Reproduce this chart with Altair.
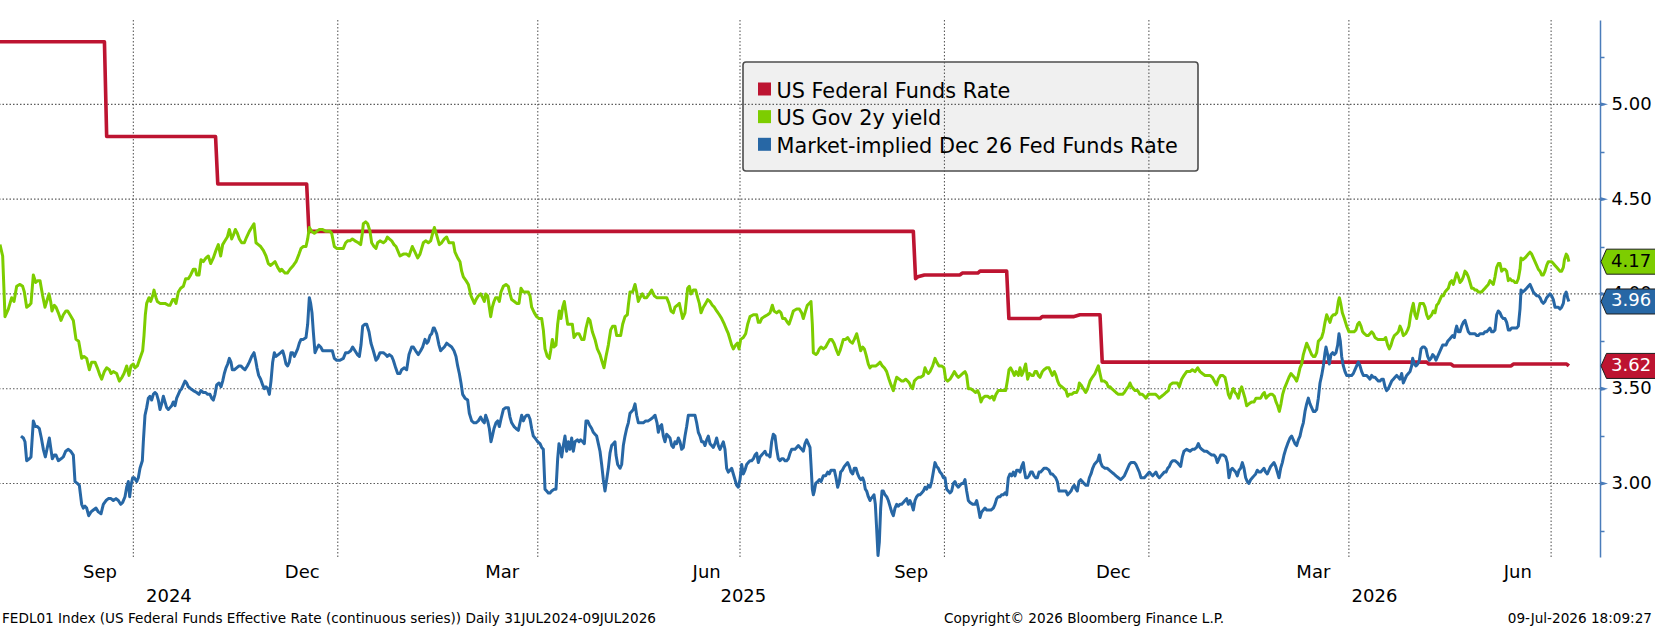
import altair as alt
import pandas as pd

# ---------------------------------------------------------------- settings
FONT = "DejaVu Sans"
W, H = 1600, 537
START = pd.Timestamp("2024-07-31")          # day 0 of the day offsets below
X_DOMAIN = [alt.DateTime(year=2024, month=8, date=2), alt.DateTime(year=2026, month=7, date=23)]
Y_DOMAIN = [2.612, 5.445]

SERIES = ["US Federal Funds Rate", "US Gov 2y yield", "Market-implied Dec 26 Fed Funds Rate"]
COLORS = ["#bd1431", "#7dcd00", "#2767a5"]
TAG_TEXT = ["white", "black", "white"]
AXIS_BLUE = "#4a7cba"
GRID = "#5c5c5c"

# ---------------------------------------------------------------- data (days after 31 Jul 2024, percent)
red_day = [0, 49, 50, 99, 100, 140, 141, 413, 414, 415, 418, 434, 435, 442, 443, 455, 456,
           470, 471, 485, 488, 497, 498, 644, 645, 655, 656, 682, 683, 707, 708]
red_val = [5.33, 5.33, 4.83, 4.83, 4.58, 4.58, 4.33, 4.33, 4.08, 4.09, 4.10, 4.10, 4.11, 4.11, 4.12, 4.12, 3.87,
           3.87, 3.88, 3.88, 3.89, 3.89, 3.64, 3.64, 3.63, 3.63, 3.62, 3.62, 3.63, 3.63, 3.62]

green_day = [
    2.0, 3.2, 4.25, 5.75, 7.25, 8.3, 9.5, 11.0, 12.2, 12.95, 14.0, 15.2, 15.95, 17.0, 18.05, 18.95, 20.0, 21.2, 22.25, 23.0,
    24.05, 24.8, 25.4, 26.45, 27.2, 28.25, 29.45, 30.5, 31.7, 32.45, 33.5, 35.0, 36.2, 37.4, 38.75, 39.8, 41.0, 42.2, 43.25, 44.75,
    45.8, 47.0, 47.75, 48.95, 50.0, 51.2, 51.95, 53.0, 54.5, 55.7, 56.9, 57.8, 59.0, 60.05, 60.95, 62.0, 62.75, 63.8, 65.0, 66.2,
    66.8, 67.4, 68.0, 69.05, 69.8, 70.7, 71.3, 72.2, 72.8, 74.0, 76.25, 77.75, 78.5, 79.7, 80.45, 81.2, 82.25, 83.3, 84.5, 85.55,
    86.75, 87.8, 89.0, 89.9, 90.5, 91.55, 92.45, 93.5, 94.7, 95.75, 96.8, 98.0, 99.2, 100.25, 101.3, 102.2, 103.25, 104.3, 105.2, 106.25,
    107.0, 107.9, 108.8, 109.7, 110.75, 111.95, 113.0, 114.2, 115.25, 116.3, 117.2, 118.25, 119.3, 120.5, 121.7, 122.75, 123.8, 124.7, 125.75, 126.95,
    128.0, 128.75, 129.5, 130.25, 131.3, 132.5, 134.0, 135.2, 136.55, 137.45, 138.5, 139.7, 140.45, 141.2, 142.25, 143.45, 144.5, 145.7, 147.2, 148.7,
    150.5, 151.25, 152.45, 153.5, 155.0, 156.5, 157.55, 158.45, 159.5, 160.55, 161.75, 163.25, 164.3, 165.05, 165.5, 166.55, 167.45, 168.5, 169.25, 170.3,
    171.2, 171.95, 173.0, 174.5, 175.55, 176.3, 177.2, 178.25, 179.3, 180.2, 182.0, 183.5, 185.0, 186.05, 187.55, 188.75, 189.95, 191.0, 192.5, 193.55,
    194.75, 195.8, 196.7, 197.45, 198.5, 199.7, 200.75, 201.95, 203.0, 204.05, 205.25, 206.0, 206.75, 207.95, 209.0, 209.75, 210.5, 211.7, 212.75, 213.95,
    214.7, 215.45, 216.2, 217.25, 218.3, 219.2, 219.95, 220.55, 221.45, 222.2, 222.8, 223.55, 224.3, 225.05, 225.95, 226.7, 227.45, 228.5, 229.7, 230.75,
    231.5, 232.25, 233.45, 234.5, 235.55, 236.45, 237.5, 238.55, 239.75, 240.5, 241.25, 242.45, 243.5, 244.55, 245.75, 246.5, 247.25, 248.3, 249.2, 249.8,
    250.55, 251.3, 252.2, 252.95, 253.7, 254.45, 255.2, 255.95, 256.7, 257.45, 258.5, 259.55, 260.3, 261.5, 262.55, 263.75, 264.8, 265.7, 266.75, 267.5,
    268.55, 269.75, 270.8, 272.0, 272.75, 273.8, 274.7, 275.75, 276.8, 277.7, 278.75, 279.5, 280.25, 281.3, 282.2, 283.25, 284.3, 284.75, 285.5, 286.7,
    287.75, 288.5, 289.25, 290.0, 291.05, 291.95, 293.0, 294.2, 295.25, 296.45, 297.5, 298.7, 299.75, 300.95, 302.0, 303.05, 303.95, 305.0, 305.75, 306.8,
    307.7, 308.45, 309.2, 310.25, 311.45, 312.2, 312.95, 314.0, 315.05, 315.95, 316.7, 317.45, 318.5, 319.55, 320.45, 321.5, 322.55, 323.45, 324.5, 325.7,
    326.75, 327.95, 329.0, 329.75, 330.5, 331.25, 332.0, 333.05, 333.8, 334.55, 335.3, 336.5, 337.55, 338.45, 339.5, 341.0, 342.5, 343.25, 344.0, 344.75,
    345.95, 347.45, 348.5, 349.55, 350.3, 351.5, 352.55, 353.45, 354.2, 355.25, 356.3, 357.05, 357.95, 359.0, 360.5, 361.7, 362.75, 363.5, 364.25, 365.3,
    366.2, 366.95, 367.55, 368.0, 369.2, 369.95, 370.7, 371.45, 372.5, 373.55, 374.45, 375.5, 376.25, 377.3, 378.5, 379.25, 380.0, 380.75, 381.5, 382.55,
    383.45, 384.5, 385.55, 386.45, 387.5, 388.55, 389.3, 390.2, 390.95, 391.7, 392.75, 393.5, 394.25, 395.3, 396.2, 397.25, 398.0, 399.05, 399.95, 401.0,
    402.05, 402.95, 404.0, 404.75, 405.5, 406.7, 407.75, 408.5, 409.55, 410.45, 411.2, 411.95, 412.7, 413.45, 414.2, 415.25, 416.3, 417.5, 418.25, 419.0,
    419.75, 420.5, 421.7, 422.75, 423.5, 424.55, 425.75, 426.8, 427.55, 428.45, 429.5, 430.55, 431.45, 432.5, 433.25, 434.3, 435.2, 436.25, 437.0, 437.75,
    438.8, 440.0, 441.05, 441.95, 442.7, 443.45, 444.2, 445.25, 446.45, 447.5, 448.55, 449.3, 450.2, 451.25, 452.3, 453.5, 454.55, 455.3, 456.05, 456.8,
    457.7, 458.45, 459.2, 460.25, 461.0, 461.75, 462.5, 463.55, 464.45, 465.2, 466.25, 467.0, 467.75, 468.5, 469.25, 470.0, 471.05, 471.8, 473.0, 474.05,
    474.8, 475.55, 476.45, 477.2, 477.95, 478.7, 479.75, 480.8, 481.7, 482.45, 483.2, 484.25, 485.3, 486.5, 487.25, 487.7, 488.45, 489.5, 490.55, 491.45,
    492.5, 493.55, 494.75, 495.5, 496.25, 497.0, 497.75, 498.95, 500.0, 500.75, 501.5, 502.25, 503.3, 504.2, 505.25, 506.3, 507.2, 507.95, 509.0, 509.75,
    510.5, 511.25, 512.0, 512.75, 513.95, 515.0, 516.05, 516.95, 517.7, 518.75, 519.8, 521.0, 522.05, 522.95, 523.7, 524.75, 525.8, 526.7, 527.75, 528.5,
    529.7, 530.75, 531.8, 532.7, 533.75, 534.8, 536.0, 537.5, 538.55, 539.75, 540.95, 542.0, 543.05, 544.25, 545.3, 546.5, 547.55, 548.45, 549.5, 550.25,
    551.3, 552.2, 553.25, 554.0, 554.75, 555.5, 556.25, 557.0, 557.75, 558.5, 559.25, 560.0, 560.75, 561.5, 562.25, 563.0, 564.05, 565.25, 566.3, 567.2,
    568.25, 569.3, 570.2, 570.95, 571.7, 572.45, 573.5, 574.55, 575.45, 576.2, 576.95, 577.7, 578.45, 579.2, 579.95, 581.0, 582.05, 582.95, 583.7, 584.45,
    585.5, 586.25, 587.0, 587.75, 588.5, 589.25, 590.0, 590.75, 591.5, 592.25, 593.0, 593.75, 594.5, 595.25, 596.0, 596.75, 597.5, 598.25, 599.0, 599.75,
    600.5, 601.25, 602.0, 602.75, 603.5, 604.25, 604.7, 605.3, 606.05, 606.95, 608.0, 609.05, 610.25, 611.3, 612.2, 612.95, 613.7, 614.45, 615.2, 615.95,
    617.0, 617.75, 618.5, 619.25, 620.0, 620.75, 621.95, 623.0, 623.75, 624.8, 625.55, 626.45, 627.2, 627.95, 628.7, 629.45, 630.5, 631.25, 632.0, 632.75,
    633.5, 634.55, 635.45, 636.05, 636.8, 637.55, 638.0, 638.75, 639.5, 640.25, 641.0, 641.75, 642.5, 643.25, 644.0, 644.75, 645.5, 646.25, 647.0, 647.75,
    648.5, 649.25, 650.0, 650.75, 651.5, 652.25, 653.0, 653.75, 654.5, 655.25, 656.0, 656.75, 657.5, 658.25, 659.0, 659.75, 660.5, 661.25, 662.0, 662.75,
    663.5, 664.25, 665.0, 665.75, 666.5, 667.25, 668.0, 668.75, 669.5, 670.25, 671.0, 671.75, 672.5, 673.25, 674.0, 674.75, 675.5, 676.25, 677.0, 677.75,
    678.5, 679.25, 680.0, 680.75, 681.5, 682.25, 683.0, 683.75, 684.5, 685.25, 686.0, 686.45, 687.2, 688.25, 689.0, 689.75, 690.5, 691.25, 692.0, 692.75,
    693.5, 694.25, 695.0, 695.75, 696.5, 697.25, 698.0, 698.75, 699.5, 700.25, 701.0, 701.75, 702.5, 703.25, 704.0, 704.75, 705.5, 706.0, 706.8, 707.4,
    708.0]
green_val = [
    4.26, 4.20, 3.88, 3.92, 3.98, 3.96, 4.04, 4.05, 4.04, 4.01, 3.93, 3.94, 3.95, 4.10, 4.06, 4.07, 4.07, 3.99, 3.93, 3.96,
    4.00, 3.96, 3.91, 3.94, 3.93, 3.90, 3.86, 3.89, 3.91, 3.91, 3.89, 3.86, 3.76, 3.75, 3.66, 3.67, 3.66, 3.60, 3.64, 3.64,
    3.61, 3.57, 3.55, 3.59, 3.61, 3.60, 3.58, 3.59, 3.58, 3.54, 3.56, 3.58, 3.62, 3.57, 3.62, 3.63, 3.61, 3.62, 3.66, 3.70,
    3.78, 3.89, 3.95, 3.98, 3.96, 3.99, 4.02, 3.98, 3.96, 3.95, 3.95, 3.94, 3.94, 3.97, 3.97, 3.95, 4.01, 4.03, 4.04, 4.08,
    4.08, 4.10, 4.13, 4.13, 4.10, 4.10, 4.18, 4.17, 4.19, 4.20, 4.16, 4.19, 4.23, 4.26, 4.20, 4.26, 4.28, 4.30, 4.34, 4.29,
    4.31, 4.34, 4.32, 4.29, 4.27, 4.27, 4.30, 4.33, 4.35, 4.37, 4.27, 4.26, 4.25, 4.23, 4.20, 4.16, 4.15, 4.16, 4.17, 4.14,
    4.12, 4.13, 4.12, 4.11, 4.11, 4.13, 4.15, 4.17, 4.21, 4.24, 4.25, 4.25, 4.29, 4.35, 4.33, 4.32, 4.33, 4.34, 4.34, 4.33,
    4.33, 4.32, 4.25, 4.24, 4.24, 4.24, 4.27, 4.28, 4.28, 4.29, 4.28, 4.27, 4.26, 4.32, 4.37, 4.38, 4.37, 4.33, 4.27, 4.25,
    4.24, 4.27, 4.28, 4.27, 4.28, 4.30, 4.29, 4.28, 4.26, 4.25, 4.20, 4.21, 4.21, 4.20, 4.25, 4.22, 4.19, 4.21, 4.27, 4.28,
    4.27, 4.28, 4.32, 4.35, 4.31, 4.26, 4.27, 4.29, 4.30, 4.27, 4.27, 4.27, 4.22, 4.19, 4.17, 4.12, 4.09, 4.07, 4.05, 3.99,
    3.97, 3.95, 3.97, 3.99, 4.00, 3.98, 3.96, 4.00, 3.99, 3.93, 3.88, 3.93, 3.96, 3.98, 3.98, 3.96, 4.01, 4.04, 4.05, 4.04,
    4.00, 3.97, 3.96, 3.95, 3.95, 4.03, 4.01, 4.01, 4.01, 3.99, 3.93, 3.90, 3.88, 3.87, 3.87, 3.81, 3.71, 3.67, 3.66, 3.70,
    3.76, 3.72, 3.73, 3.84, 3.91, 3.87, 3.93, 3.96, 3.90, 3.84, 3.84, 3.84, 3.77, 3.79, 3.79, 3.76, 3.76, 3.82, 3.87, 3.86,
    3.80, 3.76, 3.71, 3.68, 3.65, 3.61, 3.67, 3.73, 3.81, 3.83, 3.83, 3.78, 3.78, 3.78, 3.84, 3.88, 3.89, 3.94, 4.01, 4.01,
    4.05, 4.01, 3.96, 3.98, 4.00, 3.98, 3.98, 4.00, 4.02, 3.99, 3.98, 3.98, 3.98, 3.98, 3.98, 3.95, 3.91, 3.90, 3.93, 3.94,
    3.95, 3.91, 3.87, 3.90, 4.03, 4.04, 4.00, 4.02, 4.02, 3.98, 3.95, 3.90, 3.93, 3.95, 3.97, 3.96, 3.94, 3.93, 3.91, 3.89,
    3.87, 3.84, 3.81, 3.79, 3.76, 3.73, 3.71, 3.73, 3.74, 3.71, 3.76, 3.77, 3.79, 3.84, 3.88, 3.89, 3.89, 3.85, 3.85, 3.87,
    3.88, 3.89, 3.90, 3.94, 3.91, 3.90, 3.91, 3.90, 3.87, 3.87, 3.85, 3.84, 3.87, 3.91, 3.92, 3.92, 3.90, 3.87, 3.90, 3.94,
    3.95, 3.96, 3.84, 3.69, 3.68, 3.69, 3.71, 3.72, 3.71, 3.72, 3.74, 3.76, 3.76, 3.74, 3.70, 3.68, 3.70, 3.73, 3.76, 3.76,
    3.77, 3.75, 3.74, 3.76, 3.79, 3.74, 3.70, 3.72, 3.71, 3.68, 3.63, 3.61, 3.62, 3.62, 3.62, 3.63, 3.64, 3.62, 3.61, 3.59,
    3.55, 3.52, 3.49, 3.53, 3.56, 3.55, 3.54, 3.54, 3.55, 3.54, 3.53, 3.51, 3.50, 3.54, 3.55, 3.56, 3.56, 3.57, 3.61, 3.59,
    3.58, 3.59, 3.62, 3.66, 3.64, 3.62, 3.62, 3.61, 3.55, 3.54, 3.55, 3.57, 3.59, 3.57, 3.56, 3.57, 3.58, 3.59, 3.57, 3.50,
    3.50, 3.49, 3.48, 3.49, 3.47, 3.43, 3.45, 3.46, 3.46, 3.45, 3.46, 3.44, 3.47, 3.49, 3.49, 3.49, 3.49, 3.54, 3.60, 3.61,
    3.59, 3.57, 3.59, 3.57, 3.61, 3.57, 3.59, 3.63, 3.55, 3.58, 3.57, 3.57, 3.59, 3.59, 3.57, 3.56, 3.59, 3.60, 3.61, 3.61,
    3.59, 3.57, 3.59, 3.57, 3.54, 3.52, 3.51, 3.50, 3.49, 3.46, 3.47, 3.47, 3.48, 3.48, 3.50, 3.53, 3.52, 3.50, 3.48, 3.50,
    3.54, 3.56, 3.58, 3.60, 3.62, 3.58, 3.54, 3.54, 3.53, 3.51, 3.51, 3.50, 3.49, 3.48, 3.47, 3.47, 3.47, 3.48, 3.50, 3.51,
    3.53, 3.51, 3.50, 3.49, 3.49, 3.47, 3.47, 3.46, 3.45, 3.47, 3.47, 3.47, 3.47, 3.46, 3.45, 3.46, 3.47, 3.48, 3.49, 3.52,
    3.53, 3.53, 3.53, 3.51, 3.55, 3.57, 3.59, 3.59, 3.60, 3.59, 3.61, 3.59, 3.58, 3.57, 3.57, 3.57, 3.56, 3.54, 3.52, 3.55,
    3.57, 3.57, 3.56, 3.52, 3.47, 3.45, 3.48, 3.50, 3.48, 3.47, 3.45, 3.49, 3.51, 3.48, 3.45, 3.41, 3.42, 3.43, 3.43, 3.45,
    3.45, 3.45, 3.47, 3.48, 3.45, 3.46, 3.47, 3.47, 3.46, 3.43, 3.41, 3.38, 3.42, 3.47, 3.50, 3.53, 3.56, 3.58, 3.57, 3.56,
    3.54, 3.57, 3.61, 3.63, 3.68, 3.71, 3.74, 3.72, 3.70, 3.68, 3.67, 3.67, 3.69, 3.75, 3.76, 3.77, 3.80, 3.85, 3.89, 3.87,
    3.85, 3.88, 3.89, 3.89, 3.90, 3.96, 3.98, 3.95, 3.90, 3.87, 3.83, 3.80, 3.80, 3.80, 3.81, 3.84, 3.85, 3.83, 3.80, 3.79,
    3.78, 3.78, 3.79, 3.80, 3.79, 3.77, 3.76, 3.76, 3.76, 3.76, 3.77, 3.73, 3.71, 3.73, 3.76, 3.78, 3.79, 3.80, 3.83, 3.81,
    3.78, 3.79, 3.81, 3.83, 3.89, 3.93, 3.95, 3.89, 3.87, 3.91, 3.95, 3.95, 3.95, 3.93, 3.89, 3.87, 3.88, 3.89, 3.91, 3.90,
    3.94, 3.95, 3.97, 3.99, 3.99, 4.01, 4.02, 4.03, 4.06, 4.07, 4.05, 4.08, 4.11, 4.09, 4.06, 4.07, 4.09, 4.12, 4.11, 4.09,
    4.06, 4.03, 4.03, 4.02, 4.02, 4.01, 4.01, 4.01, 4.02, 4.03, 4.04, 4.05, 4.07, 4.06, 4.05, 4.09, 4.14, 4.16, 4.16, 4.12,
    4.13, 4.13, 4.12, 4.07, 4.08, 4.07, 4.07, 4.06, 4.06, 4.08, 4.13, 4.19, 4.18, 4.19, 4.20, 4.21, 4.22, 4.21, 4.19, 4.17,
    4.15, 4.13, 4.12, 4.10, 4.10, 4.12, 4.15, 4.17, 4.17, 4.17, 4.16, 4.15, 4.14, 4.13, 4.12, 4.12, 4.14, 4.18, 4.21, 4.20,
    4.17]

blue_day = [
    11.45, 12.5, 13.25, 14.0, 15.2, 15.95, 17.0, 17.9, 18.8, 19.7, 20.6, 21.5, 22.4, 23.3, 24.2, 24.8, 25.55, 26.45, 27.2, 28.25,
    29.45, 30.5, 31.55, 32.75, 33.8, 35.0, 35.75, 36.8, 37.7, 38.75, 39.5, 40.25, 41.0, 41.9, 42.95, 44.0, 45.2, 46.25, 47.45, 48.5,
    49.7, 50.75, 51.95, 53.0, 54.2, 55.25, 56.3, 57.2, 58.25, 59.0, 59.75, 60.35, 60.95, 61.7, 62.45, 63.5, 64.25, 65.0, 66.05, 66.5,
    67.25, 68.0, 68.75, 69.5, 70.25, 71.0, 71.75, 72.5, 73.25, 74.0, 74.75, 75.5, 76.25, 77.0, 77.75, 78.5, 79.25, 80.0, 80.75, 81.5,
    82.25, 83.0, 83.75, 84.5, 85.25, 86.0, 86.75, 87.8, 89.0, 90.5, 91.55, 92.45, 93.5, 94.55, 95.45, 96.5, 97.25, 98.0, 98.75, 99.5,
    100.55, 101.45, 102.2, 102.95, 103.7, 104.45, 105.2, 105.95, 106.55, 107.45, 108.5, 109.55, 110.45, 111.2, 112.25, 113.3, 114.2, 115.25, 116.3, 117.05,
    117.65, 118.4, 119.3, 120.2, 120.95, 121.7, 122.45, 123.2, 123.95, 124.7, 125.45, 126.2, 127.25, 128.3, 129.2, 129.95, 130.7, 131.45, 132.2, 132.95,
    133.7, 134.45, 135.2, 135.95, 136.7, 137.45, 138.5, 139.7, 140.45, 141.2, 141.8, 142.4, 143.0, 143.75, 144.5, 145.4, 146.3, 147.2, 148.7, 150.5,
    151.55, 152.45, 153.5, 155.0, 156.5, 157.55, 158.75, 159.8, 160.7, 161.75, 162.8, 163.7, 164.45, 165.2, 166.25, 167.0, 168.05, 168.95, 170.0, 171.2,
    171.95, 173.0, 173.75, 174.5, 175.55, 176.3, 177.2, 178.25, 179.0, 180.05, 180.95, 182.0, 182.75, 183.95, 185.0, 186.05, 187.25, 188.0, 189.05, 190.25,
    191.3, 192.2, 193.25, 194.15, 194.75, 195.5, 196.25, 197.0, 197.45, 198.5, 199.55, 200.3, 201.05, 201.95, 203.0, 204.05, 205.25, 206.3, 207.2, 207.95,
    208.7, 209.45, 210.2, 211.25, 212.45, 213.2, 214.25, 215.3, 216.2, 217.25, 218.3, 219.2, 219.95, 220.55, 221.45, 222.2, 222.95, 223.55, 224.3, 225.2,
    225.95, 226.7, 227.45, 228.5, 229.55, 230.75, 231.5, 232.25, 233.3, 234.2, 235.25, 236.0, 236.75, 237.5, 238.25, 239.0, 239.75, 240.5, 241.25, 242.0,
    242.75, 243.95, 245.0, 245.75, 246.5, 247.25, 248.0, 248.75, 249.5, 250.25, 251.45, 252.2, 252.95, 253.55, 254.3, 254.75, 255.5, 256.25, 257.0, 257.75,
    258.5, 259.25, 260.0, 260.75, 261.8, 262.55, 263.3, 264.2, 264.95, 265.7, 266.45, 267.2, 268.25, 269.0, 269.75, 270.5, 271.25, 272.0, 272.75, 273.5,
    274.25, 275.0, 275.75, 276.5, 277.25, 278.0, 278.75, 279.2, 279.95, 281.0, 281.75, 282.5, 283.25, 284.0, 284.75, 285.5, 286.25, 287.0, 287.75, 288.5,
    289.25, 290.45, 291.5, 292.55, 293.75, 294.95, 296.0, 296.75, 297.65, 298.25, 299.0, 299.75, 300.5, 301.25, 302.0, 302.75, 303.5, 304.25, 305.0, 305.75,
    306.5, 307.25, 308.0, 308.75, 309.5, 310.25, 311.0, 311.75, 312.5, 313.25, 314.0, 314.75, 315.5, 316.25, 317.0, 317.75, 318.5, 319.25, 320.0, 320.75,
    321.5, 322.25, 323.0, 323.75, 324.5, 325.25, 326.0, 326.75, 327.5, 328.25, 329.0, 329.75, 330.5, 331.25, 332.0, 332.75, 333.5, 334.25, 335.0, 335.75,
    336.5, 337.25, 338.0, 338.75, 339.5, 340.25, 341.0, 341.75, 342.5, 343.25, 344.0, 344.75, 345.5, 346.25, 347.0, 347.75, 348.5, 349.25, 350.0, 350.75,
    351.5, 352.25, 353.0, 353.75, 354.5, 355.25, 356.0, 356.75, 357.5, 358.25, 359.0, 359.75, 360.5, 361.25, 362.0, 362.75, 363.5, 364.25, 365.0, 365.75,
    366.5, 366.95, 367.55, 368.0, 368.45, 369.05, 369.95, 370.7, 371.45, 372.5, 373.55, 374.45, 375.2, 375.95, 376.7, 377.45, 378.2, 378.95, 379.7, 380.3,
    381.05, 381.95, 382.7, 383.45, 384.2, 384.95, 385.7, 386.45, 387.2, 387.95, 388.7, 389.45, 390.2, 390.8, 391.4, 392.0, 392.75, 393.5, 393.95, 394.7,
    395.3, 395.9, 396.5, 397.1, 397.7, 398.3, 398.9, 399.5, 400.25, 401.0, 401.75, 402.5, 403.25, 404.0, 404.75, 405.5, 406.25, 407.0, 407.75, 408.5,
    409.25, 410.0, 410.75, 411.5, 412.25, 413.0, 413.75, 414.5, 415.25, 416.0, 416.75, 417.5, 418.25, 419.0, 419.75, 420.5, 421.25, 422.0, 422.75, 423.5,
    424.25, 425.0, 425.75, 426.5, 427.25, 428.0, 428.75, 429.5, 430.25, 431.0, 431.75, 432.5, 433.25, 434.0, 434.75, 435.5, 436.25, 437.0, 437.75, 438.5,
    439.7, 440.75, 441.5, 442.25, 443.0, 443.75, 444.5, 445.25, 446.0, 447.05, 447.95, 449.0, 449.75, 450.5, 451.25, 452.0, 452.75, 453.5, 454.25, 455.0,
    455.75, 456.5, 457.25, 458.0, 458.75, 459.5, 460.25, 461.0, 461.75, 462.5, 462.95, 463.55, 464.3, 465.05, 465.8, 466.55, 467.3, 468.05, 468.8, 469.55,
    470.3, 471.05, 471.8, 473.0, 474.05, 474.8, 475.55, 476.3, 477.05, 477.8, 478.55, 479.3, 480.2, 480.95, 481.7, 482.45, 483.2, 483.95, 484.7, 485.45,
    486.2, 486.8, 487.55, 488.3, 489.05, 489.8, 490.7, 491.45, 492.2, 492.95, 493.7, 494.45, 495.2, 495.95, 496.7, 497.3, 498.05, 499.25, 500.3, 501.2,
    502.25, 503.3, 504.2, 505.25, 506.3, 507.2, 507.95, 508.7, 509.45, 510.2, 510.95, 511.7, 512.45, 513.2, 513.95, 514.7, 515.45, 516.2, 516.95, 517.7,
    518.45, 519.2, 519.95, 520.7, 521.45, 522.2, 522.95, 523.7, 524.45, 525.2, 525.95, 526.7, 527.45, 528.2, 528.95, 529.7, 530.75, 531.8, 532.55, 533.3,
    534.05, 534.8, 536.0, 537.5, 538.55, 539.45, 540.5, 541.25, 542.0, 542.75, 543.95, 545.0, 546.05, 547.25, 548.3, 549.05, 549.8, 550.55, 551.3, 552.5,
    553.55, 554.3, 555.05, 555.8, 556.55, 557.3, 558.05, 558.8, 559.55, 560.3, 561.05, 561.8, 562.55, 563.3, 564.05, 564.8, 565.55, 566.3, 567.05, 567.8,
    568.55, 569.3, 570.05, 570.8, 571.55, 572.3, 573.05, 573.8, 574.55, 575.3, 576.05, 576.8, 577.55, 578.3, 579.05, 579.8, 580.55, 581.45, 582.5, 583.25,
    584.0, 584.75, 585.5, 586.25, 587.0, 587.75, 588.5, 589.25, 590.0, 590.75, 591.5, 592.25, 593.0, 593.75, 594.5, 595.25, 596.0, 596.75, 597.5, 598.25,
    598.7, 599.45, 600.2, 600.95, 601.7, 602.45, 603.2, 603.95, 604.55, 605.15, 605.75, 606.5, 607.25, 608.0, 608.75, 609.5, 610.25, 611.0, 611.75, 612.5,
    613.25, 614.0, 614.75, 615.5, 616.25, 617.0, 617.75, 618.5, 619.25, 620.0, 620.75, 621.5, 622.25, 623.0, 623.75, 624.5, 625.25, 626.0, 626.75, 627.5,
    628.25, 629.0, 629.75, 630.5, 631.25, 632.0, 632.75, 633.5, 634.25, 635.0, 635.75, 636.5, 637.25, 637.7, 638.45, 639.2, 639.95, 640.7, 641.45, 642.2,
    642.95, 643.7, 644.45, 645.2, 645.95, 646.7, 647.45, 648.2, 648.95, 649.7, 650.45, 651.2, 651.95, 652.7, 653.45, 654.2, 654.95, 655.7, 656.45, 657.05,
    657.5, 658.25, 659.0, 659.75, 660.5, 661.25, 662.0, 662.75, 663.5, 664.25, 665.0, 665.75, 666.5, 667.25, 668.0, 668.75, 669.5, 670.25, 671.0, 671.75,
    672.5, 673.25, 674.0, 674.75, 675.5, 676.25, 677.0, 677.75, 678.5, 679.25, 680.0, 680.75, 681.5, 682.25, 683.0, 683.75, 684.5, 685.25, 686.0, 686.45,
    687.2, 688.25, 689.0, 689.75, 690.5, 691.25, 692.0, 692.75, 693.5, 694.25, 695.0, 695.75, 696.5, 697.25, 698.0, 698.75, 699.5, 700.25, 701.0, 701.75,
    702.5, 703.25, 704.0, 704.75, 705.5, 706.0, 706.8, 707.4, 708.0]
blue_val = [
    3.25, 3.24, 3.22, 3.12, 3.13, 3.14, 3.33, 3.30, 3.30, 3.29, 3.24, 3.18, 3.14, 3.19, 3.24, 3.19, 3.13, 3.15, 3.15, 3.12,
    3.13, 3.14, 3.17, 3.18, 3.17, 3.15, 3.01, 3.00, 2.99, 2.89, 2.87, 2.88, 2.87, 2.83, 2.85, 2.86, 2.87, 2.85, 2.84, 2.89,
    2.91, 2.92, 2.92, 2.91, 2.92, 2.91, 2.89, 2.90, 2.93, 2.98, 3.01, 2.93, 2.99, 3.03, 3.03, 3.01, 3.03, 3.08, 3.12, 3.22,
    3.36, 3.40, 3.45, 3.46, 3.44, 3.47, 3.48, 3.47, 3.44, 3.39, 3.42, 3.46, 3.43, 3.40, 3.39, 3.40, 3.41, 3.43, 3.41, 3.45,
    3.47, 3.49, 3.50, 3.52, 3.54, 3.53, 3.51, 3.50, 3.49, 3.48, 3.47, 3.49, 3.48, 3.48, 3.47, 3.47, 3.45, 3.44, 3.47, 3.52,
    3.53, 3.51, 3.54, 3.58, 3.61, 3.63, 3.66, 3.64, 3.60, 3.60, 3.61, 3.62, 3.62, 3.61, 3.60, 3.62, 3.64, 3.67, 3.69, 3.65,
    3.61, 3.57, 3.55, 3.52, 3.50, 3.51, 3.50, 3.47, 3.54, 3.64, 3.69, 3.67, 3.68, 3.69, 3.70, 3.67, 3.63, 3.62, 3.64, 3.69,
    3.69, 3.67, 3.69, 3.71, 3.74, 3.76, 3.76, 3.77, 3.84, 3.98, 3.95, 3.90, 3.80, 3.69, 3.71, 3.73, 3.72, 3.70, 3.70, 3.70,
    3.70, 3.66, 3.65, 3.65, 3.66, 3.69, 3.69, 3.70, 3.72, 3.70, 3.68, 3.67, 3.73, 3.83, 3.84, 3.84, 3.80, 3.74, 3.70, 3.65,
    3.66, 3.69, 3.69, 3.69, 3.68, 3.67, 3.68, 3.67, 3.65, 3.61, 3.58, 3.58, 3.60, 3.61, 3.60, 3.68, 3.72, 3.72, 3.70, 3.68,
    3.70, 3.72, 3.76, 3.74, 3.75, 3.78, 3.79, 3.82, 3.82, 3.79, 3.73, 3.70, 3.71, 3.72, 3.74, 3.73, 3.72, 3.70, 3.67, 3.62,
    3.58, 3.53, 3.47, 3.45, 3.44, 3.37, 3.33, 3.32, 3.32, 3.33, 3.35, 3.33, 3.32, 3.36, 3.33, 3.29, 3.22, 3.25, 3.29, 3.32,
    3.33, 3.30, 3.34, 3.39, 3.40, 3.40, 3.35, 3.32, 3.30, 3.29, 3.28, 3.32, 3.36, 3.33, 3.35, 3.36, 3.36, 3.34, 3.29, 3.25,
    3.24, 3.22, 3.21, 3.19, 3.18, 2.97, 2.96, 2.95, 2.95, 2.96, 2.97, 2.97, 3.13, 3.21, 3.18, 3.14, 3.20, 3.25, 3.17, 3.22,
    3.18, 3.24, 3.17, 3.22, 3.23, 3.22, 3.23, 3.22, 3.21, 3.33, 3.33, 3.31, 3.29, 3.27, 3.26, 3.25, 3.21, 3.17, 3.10, 3.02,
    2.96, 3.02, 3.08, 3.16, 3.20, 3.21, 3.22, 3.15, 3.10, 3.08, 3.10, 3.20, 3.25, 3.29, 3.32, 3.37, 3.38, 3.39, 3.42, 3.36,
    3.32, 3.32, 3.32, 3.33, 3.33, 3.34, 3.35, 3.36, 3.32, 3.27, 3.30, 3.31, 3.25, 3.22, 3.26, 3.25, 3.24, 3.20, 3.19, 3.22,
    3.21, 3.24, 3.22, 3.18, 3.19, 3.25, 3.30, 3.36, 3.36, 3.36, 3.36, 3.36, 3.32, 3.27, 3.25, 3.22, 3.22, 3.20, 3.23, 3.25,
    3.21, 3.20, 3.19, 3.21, 3.24, 3.20, 3.18, 3.20, 3.22, 3.18, 3.08, 3.06, 3.07, 3.08, 3.05, 3.02, 2.99, 2.98, 3.02, 3.10,
    3.05, 3.07, 3.10, 3.11, 3.12, 3.12, 3.13, 3.15, 3.16, 3.11, 3.14, 3.15, 3.16, 3.17, 3.15, 3.15, 3.14, 3.22, 3.26, 3.25,
    3.18, 3.13, 3.12, 3.13, 3.13, 3.12, 3.12, 3.13, 3.16, 3.18, 3.18, 3.18, 3.19, 3.20, 3.19, 3.18, 3.17, 3.21, 3.23, 3.21,
    3.19, 3.10, 2.97, 2.94, 2.96, 3.00, 3.01, 3.02, 3.01, 3.04, 3.04, 3.06, 3.05, 3.07, 3.07, 3.07, 3.03, 2.98, 3.01, 3.06,
    3.07, 3.09, 3.10, 3.11, 3.09, 3.06, 3.05, 3.08, 3.08, 3.05, 3.03, 3.02, 3.03, 3.01, 2.97, 2.96, 2.93, 2.91, 2.92, 2.93,
    2.94, 2.89, 2.76, 2.62, 2.69, 2.87, 2.96, 2.96, 2.94, 2.93, 2.91, 2.88, 2.85, 2.83, 2.87, 2.89, 2.88, 2.89, 2.89, 2.90,
    2.91, 2.92, 2.89, 2.91, 2.89, 2.86, 2.91, 2.93, 2.94, 2.94, 2.95, 2.96, 2.98, 2.97, 2.99, 2.98, 3.01, 3.06, 3.11, 3.09,
    3.08, 3.06, 3.05, 3.03, 3.03, 2.97, 2.96, 2.95, 2.96, 3.00, 3.01, 2.99, 2.98, 2.99, 3.00, 3.00, 3.02, 2.96, 2.91, 2.90,
    2.89, 2.89, 2.91, 2.87, 2.82, 2.85, 2.86, 2.87, 2.86, 2.86, 2.86, 2.87, 2.89, 2.92, 2.93, 2.93, 2.94, 2.94, 2.95, 2.94,
    3.03, 3.05, 3.04, 3.06, 3.04, 3.07, 3.07, 3.06, 3.09, 3.11, 3.07, 3.03, 3.03, 3.04, 3.06, 3.06, 3.04, 3.03, 3.03, 3.06,
    3.06, 3.07, 3.08, 3.08, 3.07, 3.05, 3.05, 3.04, 3.03, 3.01, 2.96, 2.96, 2.96, 2.96, 2.96, 2.94, 2.95, 2.96, 2.98, 2.99,
    2.97, 2.96, 3.01, 3.02, 3.01, 3.00, 2.99, 2.99, 3.03, 3.05, 3.08, 3.10, 3.11, 3.12, 3.15, 3.11, 3.09, 3.08, 3.08, 3.07,
    3.06, 3.05, 3.04, 3.03, 3.02, 3.03, 3.04, 3.06, 3.08, 3.10, 3.11, 3.11, 3.11, 3.10, 3.08, 3.06, 3.03, 3.03, 3.03, 3.04,
    3.05, 3.06, 3.05, 3.04, 3.05, 3.06, 3.04, 3.03, 3.04, 3.05, 3.06, 3.06, 3.08, 3.09, 3.11, 3.12, 3.12, 3.11, 3.10, 3.09,
    3.14, 3.17, 3.18, 3.17, 3.18, 3.18, 3.19, 3.21, 3.19, 3.18, 3.17, 3.17, 3.16, 3.15, 3.15, 3.14, 3.11, 3.13, 3.15, 3.15,
    3.14, 3.11, 3.03, 3.07, 3.08, 3.07, 3.06, 3.04, 3.07, 3.08, 3.11, 3.08, 3.03, 3.01, 3.00, 3.02, 3.03, 3.04, 3.05, 3.07,
    3.06, 3.06, 3.07, 3.08, 3.06, 3.05, 3.07, 3.09, 3.10, 3.11, 3.09, 3.06, 3.03, 3.08, 3.11, 3.15, 3.18, 3.21, 3.24, 3.25,
    3.23, 3.21, 3.20, 3.23, 3.25, 3.29, 3.32, 3.38, 3.42, 3.45, 3.42, 3.40, 3.38, 3.38, 3.39, 3.45, 3.53, 3.57, 3.62, 3.69,
    3.72, 3.68, 3.63, 3.68, 3.69, 3.68, 3.69, 3.73, 3.79, 3.75, 3.67, 3.62, 3.59, 3.57, 3.57, 3.57, 3.57, 3.58, 3.60, 3.62,
    3.64, 3.62, 3.59, 3.57, 3.57, 3.57, 3.56, 3.55, 3.57, 3.56, 3.56, 3.55, 3.54, 3.54, 3.55, 3.55, 3.51, 3.49, 3.50, 3.52,
    3.54, 3.55, 3.56, 3.57, 3.56, 3.55, 3.58, 3.53, 3.55, 3.57, 3.58, 3.59, 3.62, 3.66, 3.63, 3.62, 3.63, 3.65, 3.71, 3.72,
    3.72, 3.71, 3.67, 3.65, 3.66, 3.68, 3.67, 3.65, 3.67, 3.69, 3.71, 3.73, 3.73, 3.73, 3.75, 3.76, 3.77, 3.78, 3.77, 3.81,
    3.83, 3.80, 3.80, 3.83, 3.85, 3.86, 3.83, 3.80, 3.79, 3.79, 3.79, 3.79, 3.78, 3.78, 3.79, 3.79, 3.79, 3.80, 3.80, 3.81,
    3.82, 3.80, 3.80, 3.81, 3.89, 3.91, 3.90, 3.88, 3.87, 3.87, 3.85, 3.81, 3.81, 3.82, 3.82, 3.82, 3.82, 3.83, 3.92, 4.02,
    4.01, 4.02, 4.03, 4.04, 4.05, 4.03, 4.01, 4.00, 3.99, 3.99, 3.98, 3.96, 3.95, 3.96, 3.98, 3.99, 4.00, 3.99, 3.97, 3.93,
    3.93, 3.93, 3.92, 3.93, 3.95, 3.99, 4.01, 3.98, 3.96]

# axis furniture
y_tick_values = [2.75, 3.00, 3.25, 3.50, 3.75, 4.00, 4.25, 4.50, 4.75, 5.00, 5.25]
y_grid_values = [3.00, 3.50, 4.00, 4.50, 5.00]
quarter_starts = ["2024-10-01", "2025-01-01", "2025-04-01", "2025-07-01",
                  "2025-10-01", "2026-01-01", "2026-04-01", "2026-07-01"]
month_names = ["Sep", "Dec", "Mar", "Jun", "Sep", "Dec", "Mar", "Jun"]
month_mids = ["2024-09-16", "2024-12-16", "2025-03-16", "2025-06-16",
              "2025-09-16", "2025-12-16", "2026-03-16", "2026-06-16"]
years = [2024, 2025, 2026]

footer_left = "FEDL01 Index (US Federal Funds Effective Rate (continuous series)) Daily 31JUL2024-09JUL2026"
footer_mid = "Copyright\u00a9 2026 Bloomberg Finance L.P."
footer_right = "09-Jul-2026 18:09:27"


# ---------------------------------------------------------------- frames
def series_frame(days, vals):
    return pd.DataFrame({"date": START + pd.to_timedelta(days, unit="D"), "value": vals})


frames = [series_frame(red_day, red_val), series_frame(green_day, green_val), series_frame(blue_day, blue_val)]

dom_lo = pd.Timestamp("2024-08-02")
dom_hi = pd.Timestamp("2026-07-23")
year_mid = []
for yr in years:
    lo = max(dom_lo, pd.Timestamp(f"{yr}-01-01"))
    hi = min(dom_hi, pd.Timestamp(f"{yr + 1}-01-01"))
    year_mid.append(lo + (hi - lo) / 2)

X = alt.X("date:T", scale=alt.Scale(domain=X_DOMAIN), axis=None)
Y = alt.Y(
    "value:Q",
    scale=alt.Scale(domain=Y_DOMAIN, nice=False, zero=False),
    axis=alt.Axis(
        orient="right", values=y_tick_values, grid=False, title=None,
        domainColor=AXIS_BLUE, domainWidth=1.5,
        tickColor=AXIS_BLUE, tickSize=4, tickWidth=1.5,
        labelExpr="abs(round(datum.value * 2) - datum.value * 2) < 0.001 ? format(datum.value, '.2f') : ''",
        labelFont=FONT, labelFontSize=18, labelColor="#000000", labelPadding=7,
        labelBaseline="middle", labelAlign="left", labelOverlap=False, labelFlush=False, labelBound=False,
    ),
)

one = pd.DataFrame({"k": [0]})
layers = []

# legend panel (drawn first so the dotted grid shows through it)
LX0, LX1, LY0, LY1 = 743, 1198, 42, 151
layers.append(
    alt.Chart(one).mark_rect(fill="#f0f0f0", stroke="#4d4d4d", strokeWidth=1.6, cornerRadius=3)
    .encode(x=alt.value(LX0), x2=alt.value(LX1), y=alt.value(LY0), y2=alt.value(LY1))
)
for i, (name, col) in enumerate(zip(SERIES, COLORS)):
    cy = 69.0 + 27.65 * i
    layers.append(
        alt.Chart(one).mark_rect(fill=col)
        .encode(x=alt.value(758), x2=alt.value(771), y=alt.value(cy - 6.5), y2=alt.value(cy + 6.5))
    )
    layers.append(
        alt.Chart(one).mark_text(text=name, font=FONT, fontSize=20.8, align="left", baseline="alphabetic", color="#000000")
        .encode(x=alt.value(776.5), y=alt.value(cy + 8.7))
    )

# dotted grid
layers.append(
    alt.Chart(pd.DataFrame({"date": pd.to_datetime(quarter_starts)}))
    .mark_rule(color=GRID, strokeDash=[1.5, 2], strokeWidth=1.1).encode(x=X)
)
layers.append(
    alt.Chart(pd.DataFrame({"value": y_grid_values}))
    .mark_rule(color=GRID, strokeDash=[1.5, 2], strokeWidth=1.1).encode(y=Y)
)

# the three series
widths = [3.6, 3.0, 3.0]
for df, col, sw in zip(frames, COLORS, widths):
    layers.append(
        alt.Chart(df).mark_line(color=col, strokeWidth=sw, clip=True, strokeJoin="round")
        .encode(x=X, y=Y)
    )

# arrow heads on the major ticks
layers.append(
    alt.Chart(pd.DataFrame({"value": y_grid_values}))
    .mark_point(shape="M -1 -0.55 L 1 0 L -1 0.55 Z", size=64, filled=True, color=AXIS_BLUE, opacity=1)
    .encode(x=alt.value(W + 4), y=Y)
)

# last-value tags on the axis
TAG = "M -1 0 L -0.838 -0.368 L 1 -0.368 L 1 0.368 L -0.838 0.368 Z"
for df, col, tcol in zip(frames, COLORS, TAG_TEXT):
    last = pd.DataFrame({"value": [df["value"].iloc[-1]], "label": [f"{df['value'].iloc[-1]:.2f}"]})
    layers.append(
        alt.Chart(last).mark_point(shape=TAG, size=68 * 68, filled=True, fill=col, stroke="#1e1e1e",
                                   strokeWidth=1, opacity=1, fillOpacity=1, strokeOpacity=1)
        .encode(x=alt.value(W + 35), y=Y)
    )
    layers.append(
        alt.Chart(last).mark_text(font=FONT, fontSize=18, align="left", baseline="middle", color=tcol)
        .encode(x=alt.value(W + 11), y=Y, text="label:N")
    )

# month and year labels under the plot
layers.append(
    alt.Chart(pd.DataFrame({"date": pd.to_datetime(month_mids), "label": month_names}))
    .mark_text(font=FONT, fontSize=18, align="center", baseline="alphabetic", color="#000000")
    .encode(x=X, y=alt.value(H + 21.3), text="label:N")
)
layers.append(
    alt.Chart(pd.DataFrame({"date": year_mid, "label": [str(y) for y in years]}))
    .mark_text(font=FONT, fontSize=18, align="center", baseline="alphabetic", color="#000000")
    .encode(x=X, y=alt.value(H + 44.7), text="label:N")
)

# footer line
for txt, xpos, al in [(footer_left, 2, "left"), (footer_mid, 944, "left"), (footer_right, 1652, "right")]:
    layers.append(
        alt.Chart(one).mark_text(text=txt, font=FONT, fontSize=13.6, align=al, baseline="alphabetic", color="#000000")
        .encode(x=alt.value(xpos), y=alt.value(H + 65.7))
    )

chart = (
    alt.layer(*layers)
    .properties(
        width=W, height=H,
        padding={"left": 0, "top": 20, "right": 55, "bottom": 73},
        autosize=alt.AutoSizeParams(type="none"),
        background="white",
    )
    .configure_view(strokeWidth=0)
)

chart.save("out.html", embed_options={"renderer": "svg", "actions": False})
